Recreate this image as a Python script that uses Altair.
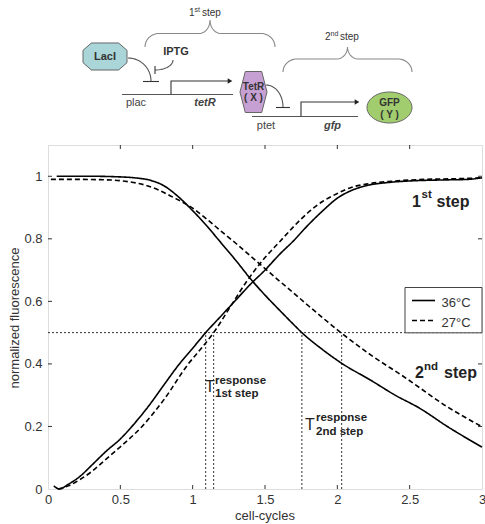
import altair as alt
import pandas as pd
import numpy as np

# ---------------- data ----------------
X_TICKS = [0, 0.5, 1, 1.5, 2, 2.5, 3]
Y_TICKS = [0, 0.2, 0.4, 0.6, 0.8, 1]

# 1st step (rising), 36 C solid / 27 C dashed
S1_36_X = [0.04, 0.08, 0.14, 0.22, 0.30, 0.40, 0.50, 0.58, 0.70, 0.80, 0.90, 1.00, 1.09, 1.20, 1.30, 1.40,
           1.50, 1.60, 1.70, 1.80, 1.90, 2.00, 2.10, 2.20, 2.35, 2.50, 2.70, 2.90, 3.00]
S1_36_Y = [0.010, 0.000, 0.015, 0.040, 0.075, 0.120, 0.160, 0.200, 0.268, 0.332, 0.395, 0.450, 0.500, 0.555,
           0.605, 0.655, 0.700, 0.750, 0.795, 0.845, 0.890, 0.930, 0.955, 0.970, 0.980, 0.985, 0.988, 0.990, 0.995]
S1_27_X = [0.07, 0.14, 0.22, 0.30, 0.40, 0.50, 0.65, 0.80, 0.97, 1.06, 1.145, 1.25, 1.375, 1.50, 1.60, 1.70,
           1.80, 1.90, 2.00, 2.10, 2.20, 2.40, 2.60, 2.80, 3.00]
S1_27_Y = [0.000, 0.010, 0.030, 0.055, 0.095, 0.135, 0.200, 0.285, 0.400, 0.450, 0.500, 0.575, 0.665, 0.740,
           0.790, 0.840, 0.885, 0.920, 0.945, 0.965, 0.975, 0.985, 0.990, 0.992, 0.995]
# 2nd step (falling)
S2_36_X = [0.06, 0.30, 0.50, 0.60, 0.70, 0.80, 0.90, 1.00, 1.10, 1.20, 1.30, 1.40, 1.50, 1.60, 1.70, 1.755,
           1.90, 2.03, 2.23, 2.40, 2.57, 2.76, 3.00]
S2_36_Y = [1.000, 1.000, 0.998, 0.995, 0.988, 0.970, 0.935, 0.890, 0.840, 0.785, 0.730, 0.672, 0.620, 0.572,
           0.525, 0.500, 0.445, 0.402, 0.348, 0.300, 0.258, 0.200, 0.134]
S2_27_X = [0.02, 0.20, 0.44, 0.55, 0.67, 0.76, 0.86, 1.00, 1.10, 1.20, 1.30, 1.40, 1.50, 1.60, 1.70, 1.80,
           1.90, 2.03, 2.23, 2.46, 2.76, 3.00]
S2_27_Y = [0.990, 0.990, 0.988, 0.983, 0.972, 0.957, 0.934, 0.898, 0.862, 0.823, 0.785, 0.745, 0.705, 0.665,
           0.626, 0.586, 0.547, 0.498, 0.429, 0.359, 0.263, 0.199]

T_RESP_1ST = [1.09, 1.145]
T_RESP_2ND = [1.755, 2.03]
THRESHOLD = [0.5]
TEMPS = ["36\u00b0C", "27\u00b0C"]

# ---------------- layout ----------------
LEFT, TOP, W, H = 48, 145, 434, 344
RIGHT_PAD, BOTTOM_PAD = 485 - LEFT - W, 524 - TOP - H
XMAX, YMAX = 3.0, 1.1
FONT = "Liberation Sans"
INK = "#222222"


def dx(px):
    return (px - LEFT) / W * XMAX


def dy(py):
    return (TOP + H - py) / H * YMAX


xs = alt.Scale(domain=[0, XMAX], nice=False, zero=False)
ys = alt.Scale(domain=[0, YMAX], nice=False, zero=False)
x_axis = alt.Axis(values=X_TICKS, format="~g", title=None, ticks=False, domain=False, grid=False,
                  labelFontSize=13, labelColor="#333", labelFont=FONT, labelPadding=4, labelFlush=False)
y_axis = alt.Axis(values=Y_TICKS, format="~g", title=None, ticks=False, domain=False, grid=False,
                  labelFontSize=13, labelColor="#333", labelFont=FONT, labelPadding=6, labelFlush=False)


def X(f):
    return alt.X(f, scale=xs, axis=x_axis)


def Y(f):
    return alt.Y(f, scale=ys, axis=y_axis)


ONE = pd.DataFrame({"k": [0]})

# ---------------- curves ----------------
rows = []
for name, temp, xx, yy in [("s1_36", TEMPS[0], S1_36_X, S1_36_Y), ("s1_27", TEMPS[1], S1_27_X, S1_27_Y),
                           ("s2_36", TEMPS[0], S2_36_X, S2_36_Y), ("s2_27", TEMPS[1], S2_27_X, S2_27_Y)]:
    for i, (a, b) in enumerate(zip(xx, yy)):
        rows.append({"series": name, "temp": temp, "i": i, "x": a, "y": b})
curves_df = pd.DataFrame(rows)

curves = alt.Chart(curves_df).mark_line(strokeWidth=1.6, color="black", interpolate="monotone").encode(
    x=X("x:Q"), y=Y("y:Q"), detail="series:N", order="i:Q",
    strokeDash=alt.StrokeDash("temp:N", scale=alt.Scale(domain=TEMPS, range=[[1, 0], [5, 3]]), legend=None),
)

# dotted guide lines
hline = alt.Chart(pd.DataFrame({"y": THRESHOLD, "x0": [0], "x1": [XMAX]})).mark_rule(
    strokeDash=[2, 2], color="#333", strokeWidth=1).encode(x=X("x0:Q"), x2="x1:Q", y=Y("y:Q"))
vdf = pd.DataFrame({"x": T_RESP_1ST + T_RESP_2ND, "y0": 0, "y1": THRESHOLD[0]})
vlines = alt.Chart(vdf).mark_rule(strokeDash=[2, 2], color="#333", strokeWidth=1).encode(
    x=X("x:Q"), y=Y("y0:Q"), y2="y1:Q")

# inward ticks
xt = pd.DataFrame({"x": X_TICKS[1:-1]})
yt = pd.DataFrame({"y": Y_TICKS[1:]})
TL = 4
ticks = [
    alt.Chart(xt).mark_rule(color="#333").encode(x=X("x:Q"), y=alt.value(H), y2=alt.value(H - TL)),
    alt.Chart(xt).mark_rule(color="#333").encode(x=X("x:Q"), y=alt.value(0), y2=alt.value(TL)),
    alt.Chart(yt).mark_rule(color="#333").encode(y=Y("y:Q"), x=alt.value(0), x2=alt.value(TL)),
    alt.Chart(yt).mark_rule(color="#333").encode(y=Y("y:Q"), x=alt.value(W), x2=alt.value(W - TL)),
]


def txt(s, px, py, size, weight="normal", style="normal", align="left", color=INK, angle=None,
        baseline="alphabetic"):
    m = dict(text=s, fontSize=size, fontWeight=weight, fontStyle=style, align=align, baseline=baseline,
             color=color, font=FONT)
    if angle is not None:
        m["angle"] = angle
    return alt.Chart(ONE).mark_text(**m).encode(x=alt.value(px - LEFT), y=alt.value(py - TOP))


# legend box (drawn by hand, Matlab style)
legend = [
    alt.Chart(ONE).mark_rect(fill="white", stroke="#444", strokeWidth=1).encode(
        x=alt.value(405 - LEFT), x2=alt.value(W), y=alt.value(287.5 - TOP), y2=alt.value(332.8 - TOP)),
    alt.Chart(ONE).mark_rule(color="black", strokeWidth=1.6).encode(
        x=alt.value(412 - LEFT), x2=alt.value(435 - LEFT), y=alt.value(300.5 - TOP)),
    alt.Chart(ONE).mark_rule(color="black", strokeWidth=1.6, strokeDash=[5, 3]).encode(
        x=alt.value(412 - LEFT), x2=alt.value(435 - LEFT), y=alt.value(320.5 - TOP)),
    txt(TEMPS[0], 441.5, 306.5, 13, color="#333"),
    txt(TEMPS[1], 441.5, 326.5, 13, color="#333"),
]

# in-plot annotations
annots = [
    txt("1", 412, 206.5, 16, "bold"),
    txt("st", 421.5, 198, 11.5, "bold"),
    txt("step", 436.5, 206.5, 16, "bold"),
    txt("2", 415, 377.5, 16, "bold"),
    txt("nd", 424, 370, 11.5, "bold"),
    txt("step", 444, 377.5, 16, "bold"),
    txt("T", 205, 392, 16),
    txt("response", 215, 383.5, 11.5, "bold"),
    txt("1st step", 215, 397, 11.5, "bold"),
    txt("T", 305, 430, 16),
    txt("response", 316, 420.5, 11.5, "bold"),
    txt("2nd step", 316, 434.5, 11.5, "bold"),
    txt("cell-cycles", 265, 520, 13, align="center", color="#333"),
    txt("normalized fluorescence", 15, 318, 13, align="center", color="#333", angle=270, baseline="middle"),
]

# ---------------- circuit diagram (pixel geometry above the plot) ----------------
def arc(cx, cy, rx, ry, a0, a1, n=16):
    t = np.radians(np.linspace(a0, a1, n))
    return list(zip(cx + rx * np.cos(t), cy + ry * np.sin(t)))


def brace(x0, x1, yb, ytop, ymid):
    xm = (x0 + x1) / 2
    r1, r2 = 14, 11
    left = arc(x0 + r1, yb, r1, yb - ymid, 180, 270) + arc(xm - r2, ytop, r2, ymid - ytop, 90, 0)
    right = [(2 * xm - px, py) for px, py in reversed(left)]
    return left + right[1:]


paths = {
    "plac": ([(122, 94.5), (233, 94.5)], "#555"),
    "plac_arrow": ([(171, 94.5), (171, 81), (228, 81)], "#333"),
    "ptet": ([(252, 116.5), (358, 116.5)], "#555"),
    "ptet_arrow": ([(301, 116.5), (301, 102), (355, 102)], "#333"),
    "laci_arc": (arc(128, 81, 23, 23, -90, 0), "#555"),
    "laci_bar": ([(143, 81.5), (159, 81.5)], "#333"),
    "iptg_arc": (arc(155, 60, 18, 10, 0, 90), "#555"),
    "iptg_bar": ([(155, 66), (155, 74)], "#333"),
    "tetr_arc": (arc(266, 107, 17, 22, -90, 0), "#555"),
    "tetr_bar": ([(276, 107.5), (290, 107.5)], "#333"),
    "brace1": (brace(145, 275, 47, 20, 33.5), "#888"),
    "brace2": (brace(283, 412, 72, 47, 59), "#888"),
}
prow = []
for g, (pts, col) in paths.items():
    for i, (px, py) in enumerate(pts):
        prow.append({"g": g, "i": i, "x": dx(px), "y": dy(py), "c": col})
paths_df = pd.DataFrame(prow)
diagram_lines = alt.Chart(paths_df).mark_line(strokeWidth=1.1).encode(
    x=X("x:Q"), y=Y("y:Q"), detail="g:N", order="i:Q", color=alt.Color("c:N", scale=None))

OCTAGON = "M -0.62 -0.614 L 0.62 -0.614 L 1 -0.28 L 1 0.28 L 0.62 0.614 L -0.62 0.614 L -1 0.28 L -1 -0.28 Z"
HEXAGON = "M -0.4 -1 L 0.4 -1 L 0.66 0 L 0.4 1 L -0.4 1 L -0.66 0 Z"
_t = np.linspace(0, 2 * np.pi, 48, endpoint=False)
ELLIPSE = "M " + " L ".join(f"{np.cos(a):.3f} {0.69 * np.sin(a):.3f}" for a in _t) + " Z"


def shape(path, size, px, py, fill):
    return alt.Chart(ONE).mark_point(shape=path, size=size, filled=True, fill=fill, stroke="#666",
                                     strokeWidth=1, opacity=1).encode(x=alt.value(px - LEFT), y=alt.value(py - TOP))


def head(px, py):
    return alt.Chart(ONE).mark_point(shape="triangle-right", size=28, filled=True, color="#222",
                                     opacity=1).encode(x=alt.value(px - LEFT), y=alt.value(py - TOP))


diagram = [
    diagram_lines,
    head(230, 81), head(357, 102),
    shape(OCTAGON, 44 ** 2, 105, 56.5, "#aad6d9"),
    shape(HEXAGON, 41 ** 2, 253.5, 92, "#c6a0d2"),
    shape(ELLIPSE, 45 ** 2, 389.5, 107.5, "#a2cd6e"),
    txt("LacI", 105, 57, 11, "bold", align="center", baseline="middle", color="#333"),
    txt("IPTG", 176, 51.5, 11, "bold", align="center", baseline="middle", color="#333"),
    txt("plac", 136, 103, 11, align="center", baseline="middle", color="#444"),
    txt("tetR", 205, 103, 11, "bold", "italic", align="center", baseline="middle", color="#444"),
    txt("TetR", 253.5, 86.5, 10, "bold", align="center", baseline="middle", color="#333"),
    txt("( X )", 253.5, 98, 10, "bold", align="center", baseline="middle", color="#333"),
    txt("ptet", 266, 125.5, 11, align="center", baseline="middle", color="#444"),
    txt("gfp", 332.5, 125.5, 11, "bold", "italic", align="center", baseline="middle", color="#444"),
    txt("GFP", 389.5, 102.5, 10, "bold", align="center", baseline="middle", color="#333"),
    txt("( Y )", 389.5, 115, 10, "bold", align="center", baseline="middle", color="#333"),
    txt("1", 189, 16, 10, color="#333"),
    txt("st", 194.5, 12, 7, color="#333"),
    txt("step", 202, 16, 10, color="#333"),
    txt("2", 325, 40, 10, color="#333"),
    txt("nd", 330.5, 36, 7, color="#333"),
    txt("step", 340, 40, 10, color="#333"),
]

chart = alt.layer(
    hline, vlines, curves, *ticks, *legend, *annots, *diagram
).properties(
    width=W, height=H, autosize="none",
    padding={"left": LEFT, "top": TOP, "right": RIGHT_PAD, "bottom": BOTTOM_PAD},
).configure_view(stroke="#333", strokeWidth=1).configure(background="white")

chart.save("out.html", embed_options={"renderer": "svg", "actions": False})
